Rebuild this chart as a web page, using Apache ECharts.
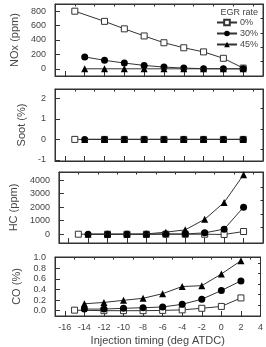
<!DOCTYPE html>
<html><head><meta charset="utf-8">
<script src="https://cdn.jsdelivr.net/npm/echarts@6/dist/echarts.min.js"></script>
<style>html,body{margin:0;padding:0;background:#fff}#c{width:266px;height:347px}</style>
</head><body><div id="c"></div>
<script>
const x0 = [-15, -12, -10, -8, -6, -4, -2, 0, 2];
const x1 = [-14, -12, -10, -8, -6, -4, -2, 0, 2];
const seriesNames = ['0%', '30%', '45%'];
const noxAll = [[800, 659, 555, 456, 362, 292, 235, 146, 10],
                [165, 118, 80, 47, 24, 10, 2, 0, 0],
                [0, 0, 0, 0, 0, 0, 0, 0, 0]];
const sootAll = [[0, 0, 0, 0, 0, 0, 0, 0, 0],
                 [0, 0, 0, 0, 0, 0, 0, 0, 0],
                 [0, 0, 0, 0, 0, 0, 0, 0, 0]];
const hcAll = [[0, 0, 0, 0, 0, 0, 0, -20, 200],
               [0, 0, 0, 0, 20, 20, 100, 375, 2000],
               [0, 0, 0, 20, 150, 325, 1100, 2350, 4400]];
const coAll = [[0.01, 0.0, 0.0, 0.0, 0.005, 0.015, 0.045, 0.08, 0.24],
               [0.03, 0.03, 0.045, 0.055, 0.07, 0.12, 0.215, 0.38, 0.56],
               [0.13, 0.155, 0.195, 0.233, 0.32, 0.455, 0.47, 0.69, 0.94]];
const xMajor = [-16, -14, -12, -10, -8, -6, -4, -2, 0, 2, 4];
const xMinor = [-17, -15, -13, -11, -9, -7, -5, -3, -1, 1, 3];
const panels = [
  {name: 'NOx (ppm)', data: noxAll, min: -100, max: 900, major: [0, 200, 400, 600, 800], minor: [100, 300, 500, 700], fmt: v => String(v)},
  {name: 'Soot (%)', data: sootAll, min: -1.05, max: 2.45, major: [-1, 0, 1, 2], minor: [-0.5, 0.5, 1.5], fmt: v => String(v)},
  {name: 'HC (ppm)', data: hcAll, min: -650, max: 4600, major: [0, 1000, 2000, 3000, 4000], minor: [500, 1500, 2500, 3500], fmt: v => String(v)},
  {name: 'CO (%)', data: coAll, min: -0.1, max: 1.01, major: [0, 0.2, 0.4, 0.6, 0.8, 1.0], minor: [0.1, 0.3, 0.5, 0.7, 0.9], fmt: v => v.toFixed(1)}
];
const gridPos = [{top: 4, height: 72}, {top: 89, height: 72}, {top: 172, height: 71}, {top: 257, height: 66}];
const font = 'Liberation Sans, Arial, sans-serif';
const lineCol = '#333';
const txtCol = '#444';
const symbols = [
  {symbol: 'rect', size: 6, itemStyle: {color: '#fff', borderColor: '#333', borderWidth: 1}},
  {symbol: 'circle', size: 7, itemStyle: {color: '#000', borderColor: '#000', borderWidth: 0}},
  {symbol: 'triangle', size: 7, itemStyle: {color: '#000', borderColor: '#000', borderWidth: 0}}
];
const grid = [], xAxis = [], yAxis = [], series = [];
panels.forEach((p, i) => {
  grid.push({left: 55, right: 3, top: gridPos[i].top, height: gridPos[i].height, show: true, borderColor: '#333', borderWidth: 1, backgroundColor: 'transparent'});
  const last = i === panels.length - 1;
  const baseX = {type: 'value', gridIndex: i, min: -17, max: 4, splitLine: {show: false},
    axisLine: {show: true, onZero: false, lineStyle: {color: '#333'}}};
  xAxis.push(Object.assign({}, baseX, {
    axisTick: {show: true, inside: true, length: 5, customValues: xMajor, lineStyle: {color: '#333'}},
    axisLabel: {show: last, customValues: xMajor, fontSize: 9, color: txtCol, fontFamily: font, margin: 7},
    name: last ? 'Injection timing (deg ATDC)' : '', nameLocation: 'middle', nameGap: 19,
    nameTextStyle: {fontSize: 11, color: txtCol, fontFamily: font}
  }));
  xAxis.push(Object.assign({}, baseX, {
    axisTick: {show: true, inside: true, length: 2.5, customValues: xMinor, lineStyle: {color: '#333'}},
    axisLabel: {show: false}
  }));
  const baseY = {type: 'value', gridIndex: i, min: p.min, max: p.max, splitLine: {show: false},
    axisLine: {show: true, onZero: false, lineStyle: {color: '#333'}}};
  yAxis.push(Object.assign({}, baseY, {
    axisTick: {show: true, inside: true, length: 5, customValues: p.major, lineStyle: {color: '#333'}},
    axisLabel: {customValues: p.major, formatter: p.fmt, fontSize: 9, color: txtCol, fontFamily: font, margin: 9},
    name: p.name, nameLocation: 'middle', nameGap: 27, nameRotate: 90,
    nameTextStyle: {fontSize: 11, color: txtCol, fontFamily: font}
  }));
  yAxis.push(Object.assign({}, baseY, {
    axisTick: {show: true, inside: true, length: 2.5, customValues: p.minor, lineStyle: {color: '#333'}},
    axisLabel: {show: false}
  }));
  p.data.forEach((vals, k) => {
    const xs = k === 0 ? x0 : x1;
    series.push({
      name: seriesNames[k], type: 'line', xAxisIndex: i * 2, yAxisIndex: i * 2,
      data: xs.map((x, j) => [x, vals[j]]),
      symbol: symbols[k].symbol, symbolSize: symbols[k].size, showAllSymbol: true,
      itemStyle: symbols[k].itemStyle,
      lineStyle: {color: lineCol, width: 1}, z: 3 + k, animation: false
    });
  });
});
const chart = echarts.init(document.getElementById('c'), null, {renderer: 'canvas'});
chart.setOption({
  animation: false,
  grid, xAxis, yAxis, series,
  legend: {data: seriesNames, orient: 'vertical', right: 8, top: 18, itemGap: 2, itemWidth: 20, itemHeight: 7,
    textStyle: {fontSize: 9, color: txtCol, fontFamily: font, padding: [0, 0, 0, -2]}, padding: 0, selectedMode: false},
  graphic: [{type: 'text', right: 8, top: 8, style: {text: 'EGR rate', fontSize: 9, fill: txtCol, fontFamily: font}}]
});
</script></body></html>
